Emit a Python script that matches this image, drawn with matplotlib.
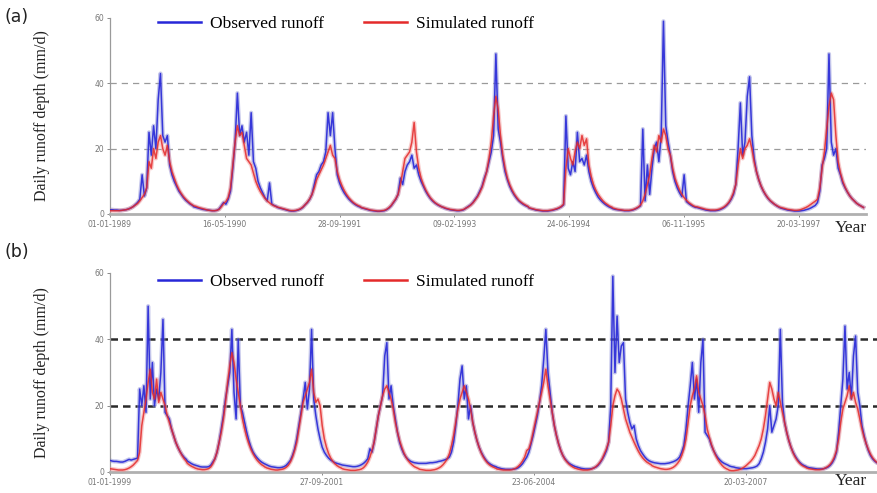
import numpy as np
import pandas as pd
import matplotlib
matplotlib.use("Agg")
import matplotlib.pyplot as plt
import matplotlib.dates as mdates

# day-of-year sampling nodes (every 10 days)
doy = np.arange(0, 365, 10)

# ---- panel (a) 1989-1997 ----
years_a = list(range(1989, 1998))
obs_a = [
    [1.3,1.3,1.2,1.2,1.1,1.1,1.2,1.3,1.5,1.8,2.2,2.8,3.5,4.5,12,5.5,8,25,18,27,20,35,43,24,22,24,15,12,10,8.5,7,6,5,4.2,3.6,3.0,2.6],
    [2.2,2.0,1.8,1.6,1.4,1.3,1.2,1.1,1.0,1.0,1.1,1.5,2.5,3.5,3.0,4.5,7,14,22,37,24,27,22,25,18,31,16,14,10,8,6.5,5,4,9.5,3,2.6,2.3],
    [2.0,1.8,1.6,1.4,1.2,1.0,0.9,0.9,1.0,1.2,1.5,2,2.8,3.5,4.5,6,9,12,13,15,16,19,31,24,31,20,12,9.5,7.8,6.5,5.5,4.6,3.9,3.3,2.8,2.4,2.1],
    [1.9,1.7,1.5,1.3,1.1,1.0,0.9,0.8,0.8,0.9,1.0,1.3,1.8,2.5,3.5,4.5,6,11,9,13,15,16,18,14,15,12,10,8.5,7,5.8,4.8,4,3.4,2.9,2.5,2.2,1.9],
    [1.7,1.5,1.3,1.2,1.1,1.0,1.0,1.1,1.3,1.8,2.3,2.8,3.5,4.5,5.5,7,8.5,11,13,16,19,24,49,26,22,17,13,10.5,8.5,7,5.8,4.8,4,3.4,2.9,2.5,2.2],
    [1.8,1.6,1.4,1.2,1.1,1.0,0.9,0.9,0.9,1.0,1.1,1.3,1.5,1.8,2.2,2.8,30,14,12,16,13,25,16,17,15,18,13,10,8,6.5,5.2,4.3,3.6,3,2.5,2.1,1.8],
    [1.6,1.4,1.3,1.2,1.1,1.0,1.0,1.0,1.1,1.3,1.6,2.0,2.5,26,4,15,6,14,20,22,16,24,59,27,22,18,13,10,8,6.5,5.3,12,3.8,3.2,2.7,2.3,2.0],
    [2.0,1.8,1.6,1.4,1.2,1.1,1.0,1.0,1.0,1.1,1.3,1.6,2,2.6,3.4,4.5,6,9,20,34,18,22,36,42,24,17,13,10.5,8.5,7,5.8,4.8,4,3.4,2.9,2.4,2.0],
    [1.8,1.6,1.4,1.2,1.1,1.0,0.9,0.9,0.9,1.0,1.1,1.3,1.5,1.8,2.2,2.6,3.5,7,15,17,20,49,22,18,20,14,12,9.5,8,6.7,5.6,4.7,4,3.3,2.8,2.4,2.0],
]
sim_a = [
    [1.0,1.0,1.0,1.0,1.0,1.1,1.2,1.3,1.5,1.8,2.2,2.7,3.2,4,5,6,8,16,14,20,17,22,24,20,18,21,16,13,11,9,7.5,6.3,5.3,4.5,3.8,3.2,2.7],
    [2.5,2.3,2.0,1.8,1.6,1.4,1.2,1.1,1.0,1.0,1.1,1.4,2.2,3.2,3.8,5,8,15,22,27,24,25,21,17,16,15,12.5,10,8.3,6.9,5.8,4.8,4.0,3.4,2.9,2.5,2.2],
    [2.1,1.9,1.7,1.5,1.3,1.1,1.0,1.0,1.1,1.3,1.6,2.1,2.8,3.6,4.6,6,8,10.5,12,13.5,15,17,19,21,18,17,13,10.5,8.7,7.2,6,5,4.2,3.5,3.0,2.6,2.3],
    [2.0,1.8,1.6,1.4,1.2,1.1,1.0,0.9,0.9,1.0,1.1,1.4,1.9,2.6,3.6,4.6,6,9,13,17,18,19,22,28,19,14,11,9,7.4,6.1,5,4.2,3.5,3,2.6,2.2,2.0],
    [1.8,1.6,1.4,1.3,1.2,1.1,1.1,1.2,1.4,1.8,2.2,2.7,3.4,4.3,5.3,6.6,8.2,10.5,13,17,22,30,36,32,24,18,14,11,9,7.4,6.1,5.1,4.2,3.6,3.1,2.7,2.3],
    [1.9,1.7,1.5,1.3,1.2,1.1,1.0,1.0,1.0,1.1,1.2,1.4,1.6,1.9,2.3,3,14,20,17,15,19,22,20,24,21,23,15,11.5,9,7.3,6,5,4.1,3.4,2.9,2.4,2.1],
    [1.8,1.6,1.4,1.3,1.2,1.1,1.1,1.1,1.2,1.4,1.7,2.1,2.7,4,6,9,12,17,21,19,24,22,26,24,20,18,14,11,9,7.3,6,5,4.2,3.5,3,2.5,2.2],
    [2.2,2.0,1.8,1.6,1.4,1.3,1.2,1.2,1.2,1.3,1.5,1.8,2.2,2.8,3.6,4.8,6.5,9,15,20,17,20,21,23,20,16,13,10.5,8.6,7.1,5.9,4.9,4.1,3.5,2.9,2.5,2.1],
    [2.0,1.8,1.6,1.4,1.3,1.2,1.1,1.1,1.2,1.4,1.7,2.0,2.4,2.9,3.4,3.9,4.5,8,14,19,26,33,37,35,24,16,12.5,10,8.2,6.8,5.6,4.7,4,3.3,2.8,2.4,2.0],
]

# ---- panel (b) 1999-2008 ----
years_b = list(range(1999, 2009))
obs_b = [
    [3.5,3.3,3.2,3.2,3.1,3.0,3.0,3.2,3.5,3.8,3.6,3.8,4,4.2,25,20,26,18,50,22,33,20,25,22,30,46,18,17,16,13,11,9,7.5,6.2,5.2,4.4,3.8],
    [3.3,2.9,2.5,2.2,2.0,1.8,1.6,1.5,1.5,1.5,1.6,2,3,4,6,9,13,17,22,26,30,43,24,16,40,20,18,15,12,9.5,7.5,6,5,4.2,3.5,3,2.6],
    [2.4,2.1,1.8,1.6,1.5,1.4,1.3,1.3,1.4,1.6,2,2.7,3.5,5,7,10,14,18,22,27,19,25,43,22,17,13,10,7.5,6,5,4.2,3.6,3.2,2.8,2.6,2.4,2.2],
    [2.1,2.0,1.9,1.8,1.7,1.6,1.6,1.7,1.9,2.2,2.6,3.2,4,7,6,9,13,17,20,23,35,39,22,26,20,16,12,9,7,5.5,4.5,3.8,3.3,3,2.8,2.7,2.6],
    [2.6,2.6,2.6,2.6,2.7,2.8,2.8,2.9,3.0,3.2,3.3,3.5,3.7,4,4.5,6,9,14,20,28,32,22,26,16,20,15,12,9.5,7.5,6,4.8,3.8,3,2.5,2.1,1.8,1.6],
    [1.4,1.2,1.0,0.9,0.8,0.8,0.8,0.8,0.9,1.0,1.3,1.8,2.5,3.5,4.5,6,8.5,11,14,17,21,26,34,43,30,24,18,14,11,8.5,6.5,5,4,3.2,2.6,2.2,1.9],
    [1.7,1.5,1.3,1.1,1.0,0.9,0.9,0.9,1.0,1.2,1.5,2,2.8,3.8,5,6.5,9,20,59,30,47,33,38,39,22,18,15,13,14,10,8,6.5,5.5,4.6,3.9,3.4,3.1],
    [3.0,2.8,2.7,2.6,2.5,2.5,2.5,2.6,2.7,2.9,3.1,3.4,3.8,4.5,6,8,13,20,26,33,22,28,18,33,40,12,11,10,8,6.5,5.3,4.3,3.6,3,2.6,2.3,2.0],
    [1.8,1.6,1.5,1.3,1.2,1.1,1.0,1.0,1.0,1.1,1.2,1.3,1.5,1.8,2.5,4,6,9,13,20,12,14,16,20,43,21,15,12,9.5,7.5,6,4.8,3.8,3,2.4,2.0,1.7],
    [1.5,1.3,1.2,1.1,1.0,0.9,0.9,0.9,1.0,1.2,1.5,2,2.8,4,6,12,20,28,44,25,30,22,35,41,24,20,14,11,8.5,6.5,5,4,3.3,2.8,2.5,2.3,2.2],
]
sim_b = [
    [1.0,0.9,0.8,0.7,0.6,0.6,0.6,0.7,0.9,1.2,1.6,2.1,2.8,3.5,6,14,18,22,27,31,24,22,28,21,24,22,20,17,15,13,11,9,7.5,6.2,5,4,3.2],
    [2.6,2.1,1.7,1.4,1.1,0.9,0.8,0.7,0.7,0.8,1.0,1.5,2.5,4,6,9,12,16,21,27,32,36,33,28,24,20,16,13,10.5,8.5,6.8,5.5,4.4,3.5,2.8,2.2,1.8],
    [1.5,1.2,1.0,0.8,0.7,0.6,0.6,0.7,0.8,1.0,1.4,2,3,4.5,6.5,9,13,17,21,23,25,27,31,24,21,22,20,14,10,7.5,5.6,4.2,3.2,2.5,1.9,1.5,1.2],
    [1.0,0.8,0.7,0.6,0.5,0.5,0.5,0.6,0.7,0.9,1.3,2,3,4.5,6.5,9,13,17,20,23,25,26,24,22,19,15,12,9.5,7.5,5.8,4.5,3.5,2.7,2.1,1.6,1.3,1.0],
    [0.8,0.7,0.6,0.5,0.5,0.5,0.6,0.7,0.9,1.2,1.6,2.2,3,4,5.5,8,11,15,19,22,24,26,24,22,19,15,12,9.5,7.5,5.8,4.5,3.5,2.7,2.1,1.7,1.4,1.1],
    [0.9,0.8,0.7,0.6,0.6,0.6,0.6,0.7,0.9,1.2,1.7,2.4,3.3,4.5,6.5,7,9,12,15,18,21,24,27,31,26,22,18,14,11,8.5,6.5,5,3.8,3,2.3,1.8,1.4],
    [1.2,1.0,0.8,0.7,0.6,0.6,0.6,0.7,0.9,1.2,1.6,2.2,3,4,5.5,7,9,14,20,23,25,24,22,19,16,14,12,10.5,9,7.6,6.3,5.2,4.3,3.6,3,2.6,2.2],
    [1.9,1.6,1.4,1.2,1.0,0.9,0.8,0.8,0.9,1.1,1.4,1.9,2.6,3.5,5,7,10,15,20,23,25,29,24,22,20,17,13,10.5,8.3,6.5,5,3.8,2.8,2,1.4,1.0,0.7],
    [0.5,0.4,0.4,0.5,0.6,0.8,1.1,1.5,2,2.6,3.2,4,5,6.5,8,10,13,17,22,27,25,22,20,24,21,18,15,12,9.5,7.5,5.8,4.5,3.5,2.7,2.1,1.7,1.4],
    [1.2,1.0,0.9,0.8,0.7,0.7,0.7,0.8,1.0,1.3,1.7,2.3,3.2,4.5,6.5,10,15,19,21,23,26,22,24,21,19,16,13,10.5,8.5,6.8,5.4,4.3,3.5,2.9,2.5,2.2,2.0],
]

ticks_a = ["1989-01-01", "1990-05-16", "1991-09-28", "1993-02-09", "1994-06-24", "1995-11-06", "1997-03-20"]
ticks_b = ["1999-01-01", "2001-09-27", "2004-06-23", "2007-03-20"]
yticks = [0, 20, 40, 60]


def to_series(years, rows):
    dates, vals = [], []
    for yr, row in zip(years, rows):
        dates.extend(pd.Timestamp(f"{yr}-01-01") + pd.to_timedelta(doy, unit="D"))
        vals.extend(row)
    return pd.Series(vals, index=pd.DatetimeIndex(dates))


plt.rcParams["font.family"] = "DejaVu Sans"
fig = plt.figure(figsize=(8.77, 4.93), dpi=100)

ax_a = fig.add_axes([0.1254, 0.566, 0.862, 0.3975])
ax_b = fig.add_axes([0.1254, 0.0426, 0.8746, 0.4037])

panels = [
    (ax_a, years_a, obs_a, sim_a, ticks_a, "1989-01-01", 3293, "#9a9a9a", 0.9, (5, 4), 0.968),
    (ax_b, years_b, obs_b, sim_b, ticks_b, "1999-01-01", 3618, "#2a2a2a", 1.8, (3, 2), 0.445),
]

for ax, yrs, obs, sim, ticks, start, span, gcol, glw, gdash, legy in panels:
    o = to_series(yrs, obs)
    s = to_series(yrs, sim)
    # soft halo + core to mimic the blurry thick traces
    ax.plot(o.index, o.values, color="#8d90d8", lw=3.0, alpha=0.5, zorder=2)
    ax.plot(s.index, s.values, color="#f08a8a", lw=3.0, alpha=0.45, zorder=3)
    ax.plot(o.index, o.values, color="#2727d8", lw=1.1, alpha=0.9, zorder=4,
            label="Observed runoff")
    ax.plot(s.index, s.values, color="#e42a2a", lw=1.1, alpha=0.85, zorder=5,
            label="Simulated runoff")

    for yv in (20, 40):
        ax.axhline(yv, color=gcol, lw=glw, dashes=gdash, zorder=1)

    t0 = pd.Timestamp(start)
    ax.set_xlim(t0, t0 + pd.Timedelta(days=span))
    ax.set_ylim(0, 60)
    ax.set_yticks(yticks)
    ax.set_xticks(pd.to_datetime(ticks))
    ax.xaxis.set_major_formatter(mdates.DateFormatter("%d-%m-%Y"))
    ax.tick_params(axis="both", labelsize=5.5, colors="#777777", length=2.5,
                   width=0.6, pad=1.5)
    for sp in ("top", "right"):
        ax.spines[sp].set_visible(False)
    ax.spines["left"].set_color("#9a9a9a")
    ax.spines["left"].set_linewidth(0.9)
    ax.spines["bottom"].set_color("#b0b0b0")
    ax.spines["bottom"].set_linewidth(2.0)
    ax.set_ylabel("Daily runoff depth (mm/d)", family="Liberation Serif",
                  fontsize=11.5, color="#222222", labelpad=32)

    leg = ax.legend(loc="upper left", bbox_to_anchor=(0.18, legy),
                    bbox_transform=fig.transFigure, ncol=2, frameon=False,
                    prop={"family": "Liberation Serif", "size": 12.5},
                    handlelength=2.5, handletextpad=0.5, columnspacing=2.3,
                    borderaxespad=0, borderpad=0)
    for h in leg.get_lines():
        h.set_linewidth(1.8)
        h.set_alpha(1)

fig.text(0.005, 0.965, "(a)", fontsize=12.5, color="#222222", va="center")
fig.text(0.005, 0.488, "(b)", fontsize=12.5, color="#222222", va="center")
fig.text(0.952, 0.537, "Year", family="Liberation Serif", fontsize=12.5,
         color="#222222", va="center")
fig.text(0.952, 0.025, "Year", family="Liberation Serif", fontsize=12.5,
         color="#222222", va="center")

fig.savefig("out.png", dpi=100)
